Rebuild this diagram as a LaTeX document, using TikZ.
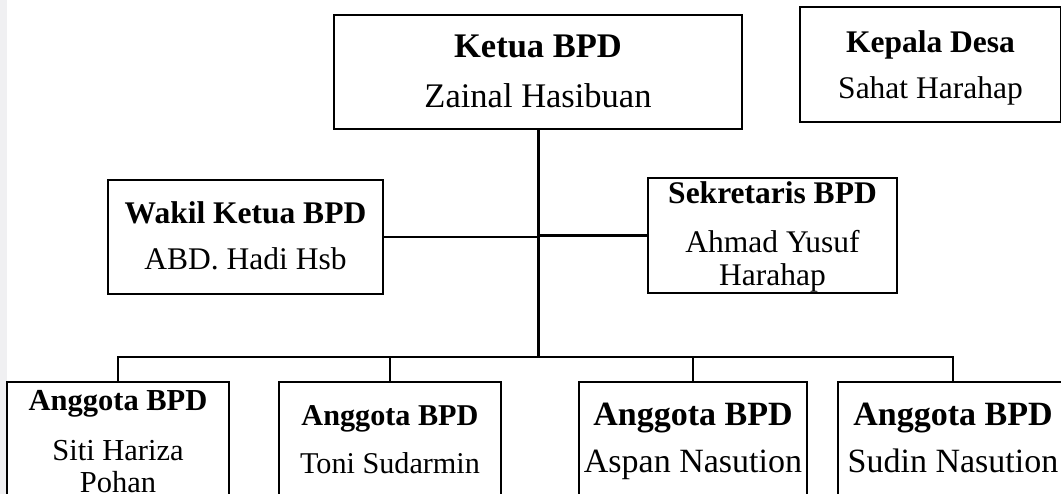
\documentclass[tikz,border=0pt]{standalone}
\usepackage{fontspec}
\setmainfont{Liberation Serif}
\definecolor{abu}{RGB}{240,240,242}
\tikzset{
  jabatan/.style={
    % The shape:
    rectangle,
    inner sep=0pt,
    % The border:
    line width=2.5pt,
    draw=black,
    % The text:
    align=center,
    text depth=0pt,
  },
  garis/.style={line width=2.5pt,draw=black},
  teks besar/.style={font=\fontsize{34}{47}\selectfont},
  teks kecil/.style={font=\fontsize{31.5}{33}\selectfont},
}

\begin{document}
\begin{tikzpicture}[x=1pt,y=-1pt]
  \useasboundingbox (0,0) rectangle (1061,494);
  \fill[abu] (0,0) rectangle (7,494);

  % top row
  \node (ketua) [jabatan,minimum width=408pt,minimum height=114pt,text height=72pt,
                 font=\fontsize{34.5}{50}\selectfont] at (538,72)
        {\textbf{Ketua BPD}\\Zainal Hasibuan};
  \node (kades) [jabatan,minimum width=261pt,minimum height=115pt,text height=69pt,
                 font=\fontsize{31.5}{46}\selectfont] at (930.5,64.5)
        {\textbf{Kepala Desa}\\Sahat Harahap};

  % middle row
  \node (wakil) [jabatan,minimum width=275pt,minimum height=114pt,text height=66pt,
                 font=\fontsize{31.5}{46}\selectfont] at (245.5,237)
        {\textbf{Wakil Ketua BPD}\\ABD. Hadi Hsb};
  \node (sekretaris) [jabatan,teks kecil,minimum width=249pt,minimum height=115pt,
                      text height=101pt] at (772.5,235.5)
        {\textbf{Sekretaris BPD}\\[16pt]Ahmad Yusuf\\Harahap};

  % members
  \node (anggota1) [jabatan,minimum width=222pt,minimum height=140pt,text height=80pt,
                    font=\fontsize{30.5}{32}\selectfont] at (118,452)
        {\textbf{Anggota BPD}\\[18pt]Siti Hariza\\Pohan};
  \node (anggota2) [jabatan,minimum width=222pt,minimum height=140pt,text height=42pt,
                    font=\fontsize{30.2}{48}\selectfont] at (390,452)
        {\textbf{Anggota BPD}\\Toni Sudarmin};
  \node (anggota3) [jabatan,teks besar,minimum width=228pt,minimum height=140pt,
                    text height=40pt] at (693,452)
        {\textbf{Anggota BPD}\\Aspan Nasution};
  \node (anggota4) [jabatan,teks besar,minimum width=230pt,minimum height=140pt,
                    text height=40pt] at (953,452)
        {\textbf{Anggota BPD}\\Sudin Nasution};

  % connectors
  \coordinate (bus) at (538,357);
  \draw[garis,line width=3pt] (ketua.south) -- (bus);
  \draw[garis] (wakil.east) -- (wakil.east -| ketua.south);
  \draw[garis] (sekretaris.west) -- (sekretaris.west -| ketua.south);
  \draw[garis] (anggota1.north) |- (bus) -| (anggota4.north);
  \draw[garis] (anggota2.north) -- (anggota2.north |- bus);
  \draw[garis] (anggota3.north) -- (anggota3.north |- bus);
\end{tikzpicture}
\end{document}
